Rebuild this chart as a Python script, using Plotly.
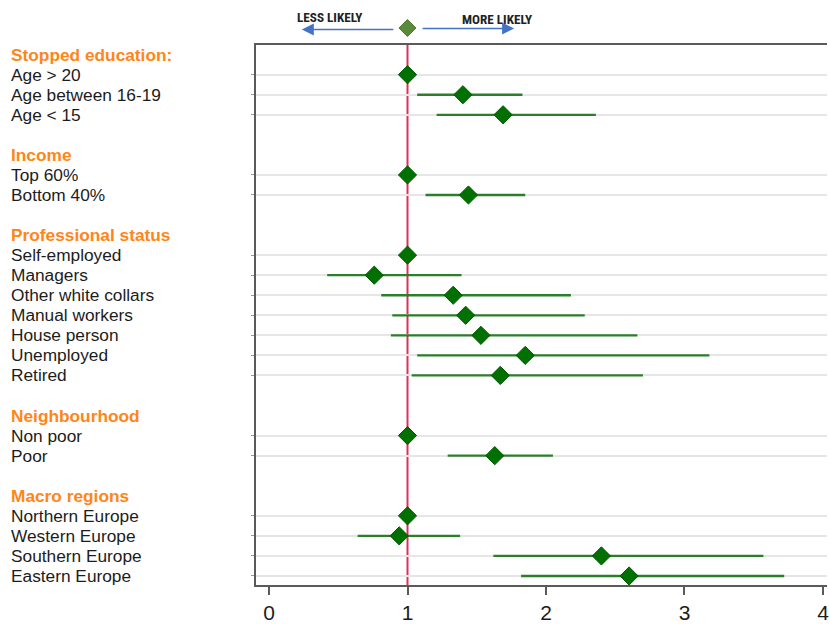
import plotly.graph_objects as go

# Row layout: group headers and the categories below them
groups = ["Stopped education:", "Income", "Professional status", "Neighbourhood", "Macro regions"]
categories = [
    ["Age > 20", "Age between 16-19", "Age < 15"],
    ["Top 60%", "Bottom 40%"],
    ["Self-employed", "Managers", "Other white collars", "Manual workers",
     "House person", "Unemployed", "Retired"],
    ["Non poor", "Poor"],
    ["Northern Europe", "Western Europe", "Southern Europe", "Eastern Europe"],
]

# Odds ratios with 95% confidence bounds (reference categories = 1, no interval)
odds = [
    [1.00, 1.40, 1.69],
    [1.00, 1.44],
    [1.00, 0.76, 1.33, 1.42, 1.53, 1.85, 1.67],
    [1.00, 1.63],
    [1.00, 0.94, 2.40, 2.60],
]
ci_low = [
    [1.00, 1.07, 1.21],
    [1.00, 1.13],
    [1.00, 0.42, 0.81, 0.89, 0.88, 1.07, 1.03],
    [1.00, 1.29],
    [1.00, 0.64, 1.62, 1.82],
]
ci_high = [
    [1.00, 1.83, 2.36],
    [1.00, 1.85],
    [1.00, 1.39, 2.18, 2.28, 2.66, 3.18, 2.70],
    [1.00, 2.05],
    [1.00, 1.38, 3.57, 3.72],
]
x_ticks = [0, 1, 2, 3, 4]

# Assign a vertical slot to each header / category row
header_rows, row_pos, labels, xs, lo, hi = [], [], [], [], [], []
slot = 0
for g, cats, o, l, h in zip(groups, categories, odds, ci_low, ci_high):
    header_rows.append((slot, g))
    slot += 1
    for c, oo, ll, hh in zip(cats, o, l, h):
        row_pos.append(slot)
        labels.append(c)
        xs.append(oo)
        lo.append(ll)
        hi.append(hh)
        slot += 1
    slot += 1  # blank line between groups
last_row = row_pos[-1]

GREEN_LINE = "#2b7f2b"
GREEN_FILL = "#007000"
ORANGE = "#ff8519"
TEXT = "#1c1c1c"
LABEL_FONT = "Liberation Sans, Arial, sans-serif"

# plot-area geometry (pixels) used to place the key above the plot
L, R, T, B = 256, 829, 45, 585
PW, PH = R - L, B - T


def px_x(p):
    return (p - L) / PW


def px_y(p):
    return (B - p) / PH


fig = go.Figure()

fig.add_trace(go.Scatter(
    x=xs, y=row_pos, mode="markers",
    marker=dict(symbol="diamond", size=14, color=GREEN_FILL,
                line=dict(color="#005a00", width=1)),
    error_x=dict(type="data", symmetric=False,
                 array=[h - v for h, v in zip(hi, xs)],
                 arrayminus=[v - l for v, l in zip(xs, lo)],
                 width=0, thickness=2.3, color=GREEN_LINE),
    showlegend=False, hoverinfo="skip",
))

annotations = []
lab_x = px_x(8)
for s, g in header_rows:
    annotations.append(dict(
        x=lab_x, y=s, xref="paper", yref="y", xanchor="left", yanchor="middle",
        text="<b>" + g + "</b>", showarrow=False,
        font=dict(family=LABEL_FONT, size=17.3, color=ORANGE)))
for s, c in zip(row_pos, labels):
    annotations.append(dict(
        x=lab_x, y=s, xref="paper", yref="y", xanchor="left", yanchor="middle",
        text=c, showarrow=False,
        font=dict(family=LABEL_FONT, size=17.3, color=TEXT)))

# Direction key: text and arrows
key_font = dict(family="Liberation Sans Narrow, Roboto Condensed, Roboto, sans-serif",
                size=13.2, color="#222222")
annotations.append(dict(x=px_x(330), y=px_y(17.5), xref="paper", yref="paper",
                        xanchor="center", yanchor="middle",
                        text="<b>LESS LIKELY</b>", showarrow=False, font=key_font))
annotations.append(dict(x=px_x(498), y=px_y(19.5), xref="paper", yref="paper",
                        xanchor="center", yanchor="middle",
                        text="<b>MORE LIKELY</b>", showarrow=False, font=key_font))
for tail, head, py in [(395, 302, 29.5), (422, 515, 28.5)]:
    annotations.append(dict(
        x=px_x(head), y=px_y(py), xref="paper", yref="paper",
        ax=tail - head, ay=0, axref="pixel", ayref="pixel",
        text="", showarrow=True, arrowhead=2, arrowsize=1.5, arrowwidth=1.6,
        standoff=0, startstandoff=0, arrowcolor="#4472c4"))

d = 8.5  # half-diagonal of the key diamond, pixels
fig.update_layout(
    width=829, height=624,
    margin=dict(l=L, r=829 - R, t=T, b=624 - B),
    paper_bgcolor="white", plot_bgcolor="white",
    annotations=annotations,
    shapes=[
        dict(type="line", xref="x", yref="paper", x0=1, x1=1, y0=0, y1=1,
             line=dict(color="#dc2f5a", width=2), layer="below"),
        dict(type="path", xref="paper", yref="paper",
             xsizemode="pixel", ysizemode="pixel",
             xanchor=px_x(408), yanchor=px_y(28),
             path=f"M 0 {d} L {d} 0 L 0 {-d} L {-d} 0 Z",
             fillcolor="#5b8a3a", line=dict(color="#4d7a30", width=1)),
    ],
)
fig.update_xaxes(
    range=[-0.094, 4.029], tickvals=x_ticks, ticktext=[str(t) for t in x_ticks],
    showgrid=False, zeroline=False,
    showline=True, mirror=True, linecolor="#5a5a5a", linewidth=2,
    ticks="outside", ticklen=8, tickwidth=2, tickcolor="#5a5a5a",
    ticklabeloverflow="allow",
    tickfont=dict(family=LABEL_FONT, size=21, color=TEXT),
)
fig.update_yaxes(
    range=[last_row + 0.45, -0.48], tickvals=row_pos, showticklabels=False,
    showgrid=True, gridcolor="#e6e6e6", gridwidth=2, zeroline=False,
    showline=True, linecolor="#5a5a5a", linewidth=2,
    ticks="outside", ticklen=3, tickwidth=1, tickcolor="#9a9a9a",
)

fig.write_html("out.html")
